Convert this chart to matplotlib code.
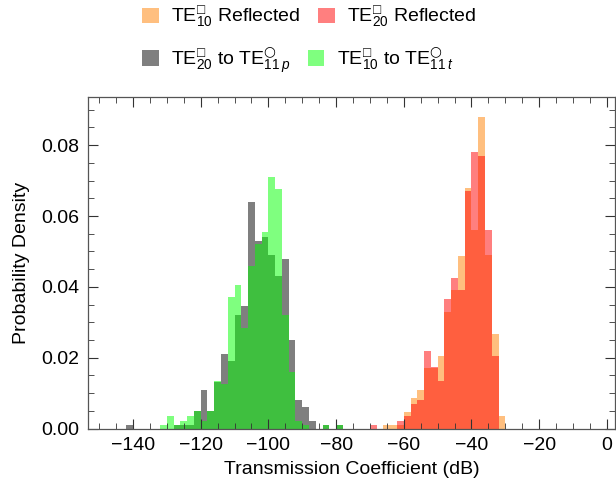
import numpy as np
import matplotlib
matplotlib.use("Agg")
import matplotlib.pyplot as plt
from matplotlib.patches import Patch
from matplotlib.ticker import MultipleLocator

plt.rcParams['font.family'] = ['Liberation Sans', 'DejaVu Sans']
plt.rcParams['mathtext.fontset'] = 'custom'
plt.rcParams['mathtext.rm'] = 'Liberation Sans'
plt.rcParams['mathtext.it'] = 'Liberation Sans:italic'
plt.rcParams['mathtext.sf'] = 'DejaVu Sans'
plt.rcParams['mathtext.fallback'] = 'stixsans'

# histogram data, 2 dB bins, probability density
bin_width = 2

# TE20 to TE11p (gray)
start_p = -142
dens_p = [0.001, 0, 0, 0, 0, 0, 0, 0.001, 0.001, 0.001, 0.005, 0.011, 0.005,
          0.013, 0.021, 0.019, 0.032, 0.0345, 0.064, 0.053, 0.054, 0.049,
          0.043, 0.048, 0.025, 0.008, 0.006, 0.002, 0, 0.001, 0, 0.001]

# TE10 to TE11t (green)
start_t = -132
dens_t = [0.001, 0.0035, 0.001, 0.002, 0.0035, 0.005, 0.002, 0.005, 0.0135,
          0.0125, 0.037, 0.0405, 0.0285, 0.046, 0.052, 0.0555, 0.071, 0.0675,
          0.032, 0.016, 0.002, 0.001, 0, 0, 0.001, 0, 0.001]

# TE10 reflected (orange)
start_r10 = -66
dens_r10 = [0.001, 0.001, 0.001, 0.0047, 0.0085, 0.011, 0.017, 0.017, 0.0206,
            0.033, 0.039, 0.0486, 0.068, 0.056, 0.088, 0.049, 0.0267, 0.0035]

# TE20 reflected (red)
start_r20 = -70
dens_r20 = [0.001, 0, 0, 0, 0.002, 0.0035, 0.007, 0.008, 0.022, 0.0175, 0.0135,
            0.0365, 0.0426, 0.039, 0.067, 0.078, 0.077, 0.056, 0.0205]

c_gray = (0, 0, 0, 0.5)
c_green = (0, 1, 0, 0.5)
c_orange = (1, 0.5, 0, 0.5)
c_red = (1, 0, 0, 0.5)

fig = plt.figure(figsize=(6.16, 4.94), dpi=100)
ax = fig.add_axes([88/616, 1-428.5/494, 527/616, 331.5/494])

def draw(start, dens, color):
    left = start + bin_width*np.arange(len(dens))
    ax.bar(left, dens, width=bin_width, align='edge', color=color, linewidth=0)

draw(start_p, dens_p, c_gray)
draw(start_t, dens_t, c_green)
draw(start_r10, dens_r10, c_orange)
draw(start_r20, dens_r20, c_red)

ax.set_xlim(-153.3, 2.4)
ax.set_ylim(0, 0.0936)
ax.xaxis.set_major_locator(MultipleLocator(20))
ax.xaxis.set_minor_locator(MultipleLocator(5))
ax.yaxis.set_major_locator(MultipleLocator(0.02))
ax.yaxis.set_minor_locator(MultipleLocator(0.005))
ax.yaxis.set_major_formatter(lambda v, p: f'{v:.2f}')
ax.xaxis.set_major_formatter(lambda v, p: f'{v:.0f}'.replace('-', '\u2212'))
ax.tick_params(which='both', direction='in', top=True, right=True,
               color='#333333', labelsize=14)
ax.tick_params(which='major', length=7, width=0.8, pad=6)
ax.tick_params(which='minor', length=4, width=0.6)
for s in ax.spines.values():
    s.set_color('#555555')
    s.set_linewidth(0.9)

ax.set_xlabel('Transmission Coefficient (dB)', fontsize=14, labelpad=5)
ax.set_ylabel('Probability Density', fontsize=14, labelpad=8)

sq = '□'
ci = r'\mathsf{○}'
row1 = [Patch(facecolor=c_orange, linewidth=0, label=r'$\mathrm{TE}^{%s}_{10}$ Reflected' % sq),
        Patch(facecolor=c_red, linewidth=0, label=r'$\mathrm{TE}^{%s}_{20}$ Reflected' % sq)]
row2 = [Patch(facecolor=c_gray, linewidth=0,
              label=r'$\mathrm{TE}^{%s}_{20}$ to $\mathrm{TE}^{%s}_{11\,p}$' % (sq, ci)),
        Patch(facecolor=c_green, linewidth=0,
              label=r'$\mathrm{TE}^{%s}_{10}$ to $\mathrm{TE}^{%s}_{11\,t}$' % (sq, ci))]
kw = dict(loc='center left', ncol=2, frameon=False, fontsize=14, handlelength=0.85,
          handleheight=0.85, handletextpad=0.65, columnspacing=0.9, borderpad=0,
          borderaxespad=0)
fig.legend(handles=row1, bbox_to_anchor=(142/616, 1-17/494), **kw)
fig.legend(handles=row2, bbox_to_anchor=(142/616, 1-60/494), **kw)

fig.savefig('out.png', dpi=100)
